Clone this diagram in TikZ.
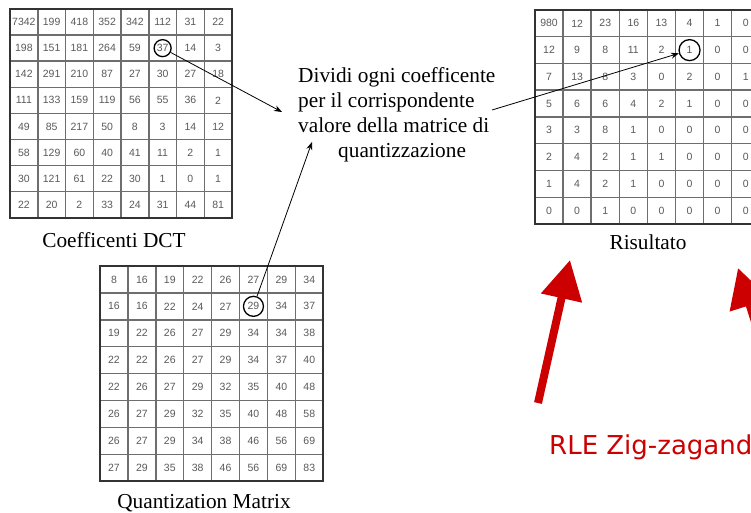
\documentclass[tikz,border=0pt]{standalone}
\usepackage{fontspec}
\setmainfont{Liberation Serif}
\newfontfamily\cellfont{Liberation Sans}
\newfontfamily\notefont{DejaVu Sans}
\usepackage{xcolor}
\usepackage{tikz}
\usetikzlibrary{
  arrows.meta,
  positioning
}
\definecolor{gridcolor}{HTML}{6E6E6E}
\definecolor{numcolor}{HTML}{5A5A5A}
\definecolor{rlecolor}{HTML}{CC0000}
% name, left, top, cell width, cell height, rows
\newcommand{\numgrid}[6]{%
  \foreach \rowvals [count=\r] in {#6} {
    \foreach \val [count=\c] in \rowvals {
      \node[cell, minimum width=#4pt, minimum height=#5pt]
        (#1-\r-\c) at ({#2+#4*(\c-0.5)}, {#3+#5*(\r-0.5)}) {\val};
    }
  }
  \draw[frame] (#1-1-1.north west) rectangle (#1-8-8.south east);
}

\begin{document}
\begin{tikzpicture}[
  x=1pt, y=-1pt,
  cell/.style={draw=gridcolor, line width=1.5pt, inner sep=0pt, outer sep=0pt,
               font=\cellfont\fontsize{10.5}{12}\selectfont, text=numcolor},
  frame/.style={draw=black!80, line width=1.5pt},
  ring/.style={draw, circle, line width=1.3pt, inner sep=0pt},
  arrow/.style={-{Stealth[length=8pt, width=6pt]}, line width=0.8pt},
  lbl/.style={font=\fontsize{21.3}{25}\selectfont, inner sep=0pt, anchor=base},
  redlbl/.style={font=\notefont\fontsize{26}{30}\selectfont, text=rlecolor,
                 inner sep=0pt, anchor=base west},
  redarrow/.style={-{Triangle[length=39pt, width=40pt]}, line width=8pt, rlecolor},
]
  \useasboundingbox (0,0) rectangle (751,513);
  \fill[white] (0,0) rectangle (751,513);
  \clip (0,0) rectangle (751,513);

  % DCT coefficients
  \numgrid{dct}{10}{9}{27.75}{26.1}{
    {7342,199,418,352,342,112,31,22},
    {198,151,181,264,59,37,14,3},
    {142,291,210,87,27,30,27,18},
    {111,133,159,119,56,55,36,2},
    {49,85,217,50,8,3,14,12},
    {58,129,60,40,41,11,2,1},
    {30,121,61,22,30,1,0,1},
    {22,20,2,33,24,31,44,81}}
  \node[ring, minimum size=17pt] (dctmark) at (dct-2-6) {};
  \node[lbl] (dctcap) at (114, 247) {Coefficenti DCT};

  % Quantization matrix
  \numgrid{quant}{100}{266}{27.9}{26.9}{
    {8,16,19,22,26,27,29,34},
    {16,16,22,24,27,29,34,37},
    {19,22,26,27,29,34,34,38},
    {22,22,26,27,29,34,37,40},
    {22,26,27,29,32,35,40,48},
    {26,27,29,32,35,40,48,58},
    {26,27,29,34,38,46,56,69},
    {27,29,35,38,46,56,69,83}}
  \node[ring, minimum size=20pt] (quantmark) at (quant-2-6) {};
  \node[lbl] (quantcap) at (204, 508) {Quantization Matrix};

  % Result
  \numgrid{res}{535}{10}{28.1}{26.75}{
    {980,12,23,16,13,4,1,0},
    {12,9,8,11,2,1,0,0},
    {7,13,8,3,0,2,0,1},
    {5,6,6,4,2,1,0,0},
    {3,3,8,1,0,0,0,0},
    {2,4,2,1,1,0,0,0},
    {1,4,2,1,0,0,0,0},
    {0,0,1,0,0,0,0,0}}
  \node[ring, minimum size=21pt] (resmark) at (res-2-6) {};
  \node[lbl] (rescap) at (648, 249) {Risultato};

  % Division note
  \node[lbl, align=left, anchor=north west] (divtext) at (298, 67.5)
    {Dividi ogni coefficente\\per il corrispondente\\valore della matrice di\\
     \hspace*{40pt}quantizzazione};
  \coordinate (divin1) at (282, 112);
  \coordinate (divin2) at (312, 142);
  \coordinate (divout) at (492, 110);
  \draw[arrow] (dctmark) -- (divin1);
  \draw[arrow] (quantmark) -- (divin2);
  \draw[arrow] (divout) -- (resmark);

  % RLE
  \coordinate (rletail1) at (538, 403);
  \coordinate (rletip1) at (570, 260);
  \coordinate (rletail2) at (782, 407);
  \coordinate (rletip2) at (738, 268);
  \draw[redarrow] (rletail1) -- (rletip1);
  \draw[redarrow] (rletail2) -- (rletip2);
  \node[redlbl] (rlelbl) at (549, 454) {RLE Zig-zagando};

\end{tikzpicture}
\end{document}
